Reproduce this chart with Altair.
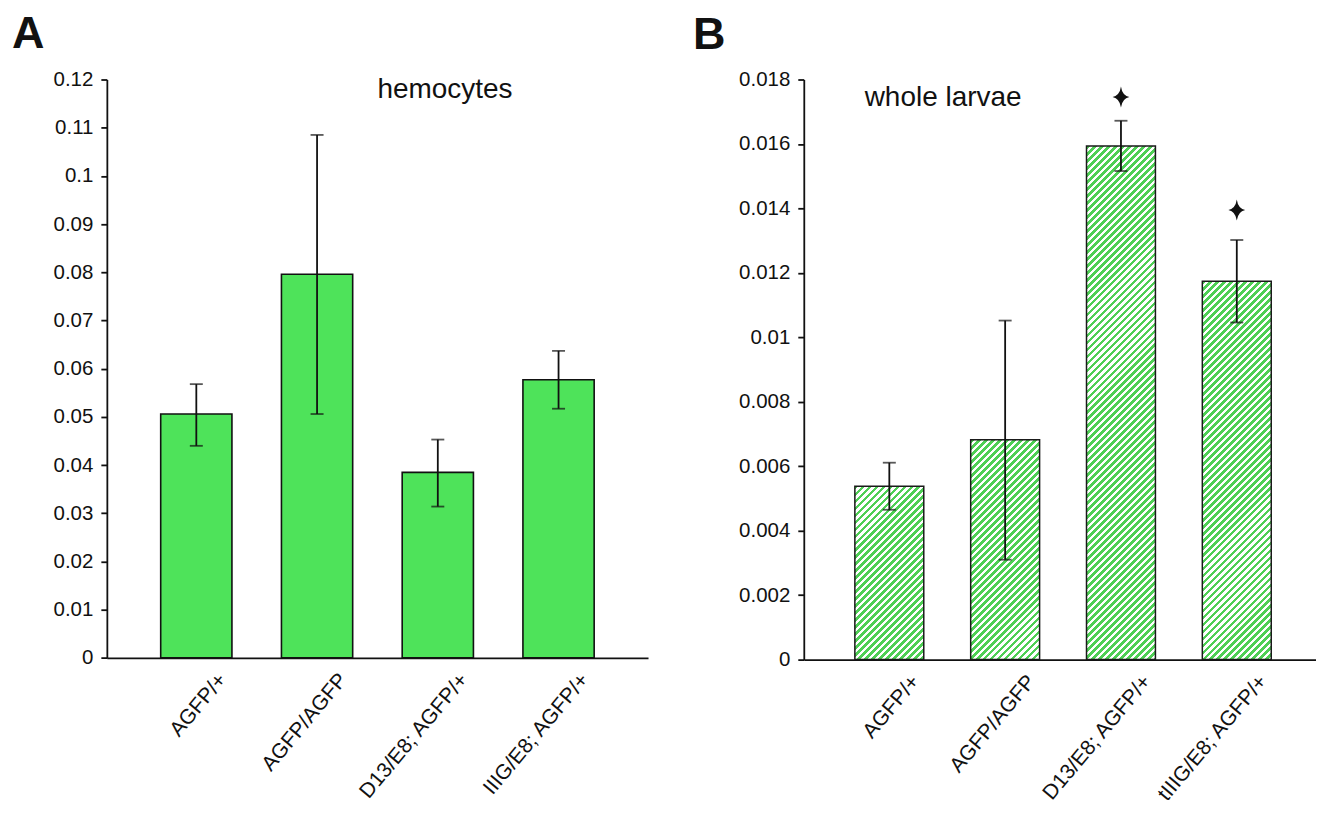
import math
import altair as alt
import pandas as pd

# ---------------- data ----------------
cats_a = ["AGFP/+", "AGFP/AGFP", "D13/E8; AGFP/+", "IIIG/E8; AGFP/+"]
vals_a = [0.0506, 0.0796, 0.0385, 0.0577]
lo_a = [0.0440, 0.0506, 0.0314, 0.0517]
hi_a = [0.0568, 0.1085, 0.0453, 0.0637]
ticks_a = [0, 0.01, 0.02, 0.03, 0.04, 0.05, 0.06, 0.07, 0.08, 0.09, 0.1, 0.11, 0.12]

cats_b = ["AGFP/+", "AGFP/AGFP", "D13/E8; AGFP/+", "tIIIG/E8; AGFP/+"]
vals_b = [0.00538, 0.00682, 0.01594, 0.01174]
lo_b = [0.00465, 0.0031, 0.01516, 0.01046]
hi_b = [0.00611, 0.01052, 0.01672, 0.01302]
ticks_b = [0, 0.002, 0.004, 0.006, 0.008, 0.01, 0.012, 0.014, 0.016, 0.018]
star_cats = ["D13/E8; AGFP/+", "tIIIG/E8; AGFP/+"]
star_vals = [0.01746, 0.01395]

panel_letters = ["A", "B"]
panel_titles = ["hemocytes", "whole larvae"]

# ---------------- style ----------------
FONT = "Liberation Sans"
INK = "#111111"
GREEN = "#4ee35a"
HATCH = "#4fcf55"
W_A, H_A = 542, 579.3
W_B, H_B = 513, 581
YMAX_A, YMAX_B = 0.12, 0.018
PI_A, PO_A = 0.41, 0.446
PI_B, PO_B, AL_B = 0.405, 0.4137, 0.533

df_a = pd.DataFrame({"cat": cats_a, "val": vals_a, "lo": lo_a, "hi": hi_a})
df_b = pd.DataFrame({"cat": cats_b, "val": vals_b, "lo": lo_b, "hi": hi_b})
df_s = pd.DataFrame({"cat": star_cats, "val": star_vals})


def x_enc(cats, pi, po, align=0.5):
    return alt.X(
        "cat:N",
        sort=cats,
        scale=alt.Scale(domain=cats, paddingInner=pi, paddingOuter=po, align=align),
        axis=alt.Axis(
            title=None, ticks=False, labelAngle=-50, labelAlign="right",
            labelBaseline="top", labelOffset=18, labelPadding=11,
            labelFont=FONT, labelFontSize=21, labelColor=INK, labelOverlap=False,
            labelLimit=400, domainColor=INK, domainWidth=1.8,
        ),
    )


def y_enc(field, ticks, ymax):
    ax = alt.Axis(
        title=None, values=ticks, format="~g", grid=False, tickSize=6,
        tickWidth=1.8, tickColor=INK, domainColor=INK, domainWidth=1.8,
        labelFont=FONT, labelFontSize=20.5, labelColor=INK, labelPadding=8,
    )
    return alt.Y(field, scale=alt.Scale(domain=[0, ymax], nice=False, zero=True), axis=ax)


def errorbars(df, cats, pi, po, ymax, ticks, align=0.5):
    rule = alt.Chart(df).mark_rule(color=INK, strokeWidth=1.8).encode(
        x=x_enc(cats, pi, po, align), y=y_enc("lo:Q", ticks, ymax), y2="hi:Q"
    )
    caps = alt.Chart(df).transform_fold(["lo", "hi"], as_=["k", "v"]).mark_tick(
        color=INK, size=13, thickness=1.8, orient="horizontal"
    ).encode(x=x_enc(cats, pi, po, align), y=y_enc("v:Q", ticks, ymax))
    return rule, caps


def label(text, x, y, size, bold=False):
    return alt.Chart(pd.DataFrame({"t": [text]})).mark_text(
        font=FONT, fontSize=size, fontWeight="bold" if bold else "normal",
        color=INK, align="left", baseline="alphabetic",
    ).encode(text="t:N", x=alt.value(x), y=alt.value(y))


# ---------------- panel A ----------------
bars_a = alt.Chart(df_a).mark_bar(fill=GREEN, stroke=INK, strokeWidth=1.6).encode(
    x=x_enc(cats_a, PI_A, PO_A), y=y_enc("val:Q", ticks_a, YMAX_A)
)
rule_a, caps_a = errorbars(df_a, cats_a, PI_A, PO_A, YMAX_A, ticks_a)
panel_a = alt.layer(
    bars_a, rule_a, caps_a,
    label(panel_letters[0], -95, -32, 45, True),
    label(panel_titles[0], 271, 19, 28),
).properties(width=W_A, height=H_A)

# ---------------- panel B (hatched bars) ----------------
step_b = W_B / (4 - PI_B + 2 * PO_B)
bw_b = step_b * (1 - PI_B)
PERIOD = 7.0
FRAC = 0.55


def hatch(value):
    w = bw_b
    h = value / YMAX_B * H_B
    a = w * (w + h) / (w * w + h * h)
    n = (w + h) / PERIOD
    stops = []
    k = 0
    while k / n < 1:
        o0 = round(k / n, 6)
        o1 = round(min((k + FRAC) / n, 1.0), 6)
        o2 = round(min((k + 1) / n, 1.0), 6)
        stops += [
            alt.GradientStop(offset=o0, color=HATCH),
            alt.GradientStop(offset=o1, color=HATCH),
            alt.GradientStop(offset=o1, color="#ffffff"),
            alt.GradientStop(offset=o2, color="#ffffff"),
        ]
        k += 1
    return alt.LinearGradient(gradient="linear", stops=stops, x1=0, y1=0, x2=a, y2=a * h / w)


bar_layers_b = []
for i, c in enumerate(cats_b):
    bar_layers_b.append(
        alt.Chart(df_b.iloc[[i]]).mark_bar(fill=hatch(vals_b[i]), stroke="#1a1a1a", strokeWidth=1.5).encode(
            x=x_enc(cats_b, PI_B, PO_B, AL_B), y=y_enc("val:Q", ticks_b, YMAX_B)
        )
    )
rule_b, caps_b = errorbars(df_b, cats_b, PI_B, PO_B, YMAX_B, ticks_b, AL_B)
STAR = "M0,-1 Q0.12,-0.14 0.8,0 Q0.12,0.14 0,1 Q-0.12,0.14 -0.8,0 Q-0.12,-0.14 0,-1 Z"
stars = alt.Chart(df_s).mark_point(shape=STAR, filled=True, color=INK, size=440, opacity=1).encode(
    x=x_enc(cats_b, PI_B, PO_B, AL_B), y=y_enc("val:Q", ticks_b, YMAX_B)
)
panel_b = alt.layer(
    *bar_layers_b, rule_b, caps_b, stars,
    label(panel_letters[1], -111, -31, 45, True),
    label(panel_titles[1], 61, 27, 28),
).properties(width=W_B, height=H_B)

chart = (
    alt.hconcat(panel_a, panel_b, spacing=45)
    .properties(padding={"left": 4, "top": 3, "right": 0, "bottom": 0})
    .configure_view(stroke=None)
)

chart.save("out.html", embed_options={"renderer": "svg", "actions": False})
